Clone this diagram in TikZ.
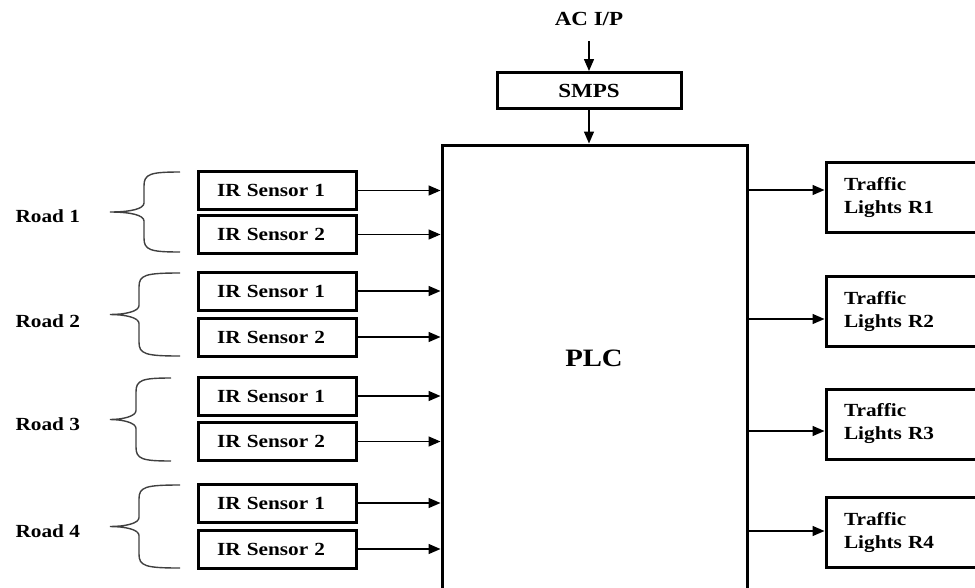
\documentclass[tikz,border=0pt]{standalone}
\usepackage{fontspec}
\setmainfont{Liberation Serif}[FakeStretch=1.15]
\usepackage{tikz}
\usetikzlibrary{arrows.meta, positioning, calc}

% curly bracket: #1 top, #2 bottom, #3 spine x, #4 right end x
\newcommand{\roadbrace}[4]{%
  \draw[roadcurl] (#4,#1) .. controls ({#3+6},#1) and (#3,{#1+2}) .. (#3,{#1+14})
    -- (#3,{(#1+#2)/2-9}) .. controls (#3,{(#1+#2)/2-3}) and ({#3-14},{(#1+#2)/2}) .. (110,{(#1+#2)/2})
    .. controls ({#3-14},{(#1+#2)/2}) and (#3,{(#1+#2)/2+3}) .. (#3,{(#1+#2)/2+9})
    -- (#3,{#2-14}) .. controls (#3,{#2-2}) and ({#3+6},#2) .. (#4,#2);}

\tikzset{
  sensorbox/.style={draw, line width=3pt, inner xsep=19pt, inner ysep=0pt, text width=120pt,
    minimum height=38pt, align=left, font=\fontsize{18.5}{22}\selectfont\bfseries},
  lightbox/.style={draw, line width=3pt, inner xsep=18pt, inner ysep=0pt, text width=150pt,
    minimum height=70pt, align=left, font=\fontsize{18.5}{23}\selectfont\bfseries},
  roadtext/.style={anchor=base west, font=\fontsize{18.5}{22}\selectfont\bfseries},
  sig/.style={-{Triangle[length=12pt, width=10pt]}, line width=1.4pt},
  roadcurl/.style={line width=1.4pt, black!75}
}

\begin{document}
\begin{tikzpicture}[x=1pt, y=-1pt]
\useasboundingbox (0,0) rectangle (975,587);
\fill[white] (0,0) rectangle (975,587);

% Power supply
\node[font=\fontsize{20}{24}\selectfont\bfseries] (acip) at (589,19) {AC I/P};
\node[draw, line width=3pt, minimum width=184pt, minimum height=36pt,
  font=\fontsize{20}{24}\selectfont\bfseries] (smps) at (589,90.5) {SMPS};
\draw[sig] ([yshift=-12pt]acip.south) -- (smps.north);

% Controller
\node[draw, line width=3pt, minimum width=305pt, minimum height=460pt] (plc) at (594.5,375) {};
\node[font=\fontsize{25}{30}\selectfont\bfseries] (plctext) at (594,358) {PLC};
\draw[sig] (smps.south) -- (smps.south |- plc.north);

% Sensors
\node[sensorbox] (s11) at (277,190.5) {IR Sensor 1};
\node[sensorbox] (s12) at (277,234.5) {IR Sensor 2};
\node[sensorbox] (s21) at (277,291) {IR Sensor 1};
\node[sensorbox] (s22) at (277,337) {IR Sensor 2};
\node[sensorbox] (s31) at (277,396) {IR Sensor 1};
\node[sensorbox] (s32) at (277,441.5) {IR Sensor 2};
\node[sensorbox] (s41) at (277,503) {IR Sensor 1};
\node[sensorbox] (s42) at (277,549) {IR Sensor 2};

\draw[sig] (s11.east) -- (s11.east -| plc.west);
\draw[sig] (s12.east) -- (s12.east -| plc.west);
\draw[sig] (s21.east) -- (s21.east -| plc.west);
\draw[sig] (s22.east) -- (s22.east -| plc.west);
\draw[sig] (s31.east) -- (s31.east -| plc.west);
\draw[sig] (s32.east) -- (s32.east -| plc.west);
\draw[sig] (s41.east) -- (s41.east -| plc.west);
\draw[sig] (s42.east) -- (s42.east -| plc.west);

% Roads
\node[roadtext] (road1) at (12,222) {Road 1};
\node[roadtext] (road2) at (12,327) {Road 2};
\node[roadtext] (road3) at (12,430) {Road 3};
\node[roadtext] (road4) at (12,537) {Road 4};
\roadbrace{172}{252}{144}{180}
\roadbrace{273}{356}{139}{180}
\roadbrace{378}{461}{136}{171}
\roadbrace{485}{568}{139}{180}

% Traffic lights
\node[lightbox] (t1) at (919,197.5) {Traffic\\Lights R1};
\node[lightbox] (t2) at (919,311.5) {Traffic\\Lights R2};
\node[lightbox] (t3) at (919,424) {Traffic\\Lights R3};
\node[lightbox] (t4) at (919,532.5) {Traffic\\Lights R4};

\draw[sig] ([yshift=7.5pt]t1.west -| plc.east) -- ([yshift=7.5pt]t1.west);
\draw[sig] ([yshift=-7.5pt]t2.west -| plc.east) -- ([yshift=-7.5pt]t2.west);
\draw[sig] ([yshift=-7pt]t3.west -| plc.east) -- ([yshift=-7pt]t3.west);
\draw[sig] ([yshift=1.5pt]t4.west -| plc.east) -- ([yshift=1.5pt]t4.west);
\end{tikzpicture}
\end{document}
